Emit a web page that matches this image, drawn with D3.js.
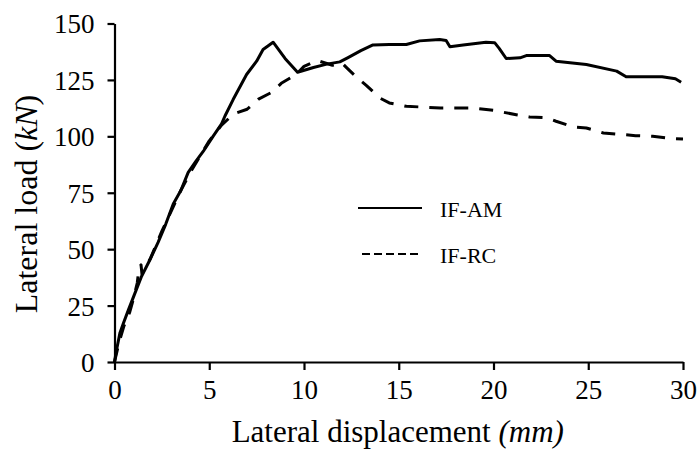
<!DOCTYPE html>
<html lang="en">
<head>
    <meta charset="UTF-8">
    <title>Lateral load vs displacement</title>
    <script src="https://d3js.org/d3.v7.min.js"></script>
    <style>
        body {
            margin: 0;
            background: #ffffff;
            overflow: hidden;
        }
        svg text {
            font-family: 'Liberation Serif', 'Times New Roman', serif;
            fill: #000;
        }
    </style>
</head>
<body>
    <div id="chart"></div>

    <script>
        // Data (displacement in mm, load in kN)
        const amDisp = [0, 0.1, 0.29, 0.46, 0.73, 1.08, 1.43, 1.87, 2.3, 2.7, 3.1, 3.5, 3.89, 4.3, 4.68, 5.2, 5.65, 5.83, 6.26, 6.97, 7.5, 7.84, 8.37, 9.0, 9.66, 10.5, 11.2, 11.89, 12.3, 13.0, 13.64, 14.5, 15.4, 16.1, 17.16, 17.5, 17.7, 18.4, 19.6, 20.06, 20.3, 20.67, 21.4, 21.73, 22.96, 23.3, 24.9, 26.5, 27.0, 28.9, 29.6, 29.9];
        const amLoad = [0, 5, 13, 17, 23, 30.5, 38, 45.3, 53, 61, 70, 76, 84, 89, 93.3, 100, 105.5, 109, 116.3, 127.4, 133.3, 138.5, 141.7, 134.5, 128.4, 130.5, 132, 133, 134.8, 138, 140.5, 140.7, 140.7, 142.3, 142.9, 142.5, 139.7, 140.5, 141.7, 141.5, 139, 134.5, 134.8, 135.8, 135.8, 133.3, 131.8, 128.9, 126.4, 126.4, 125.5, 124];

        const rcDisp = [0, 0.25, 0.5, 0.8, 1.0, 1.2, 1.3, 1.4, 1.45, 1.9, 2.5, 3.0, 3.5, 4.0, 4.5, 5.0, 5.65, 6.3, 7.0, 7.6, 8.3, 8.8, 9.6, 10.0, 10.7, 11.5, 12.0, 12.3, 12.8, 13.3, 14.0, 14.5, 15.4, 17.2, 18.9, 20.0, 21.2, 21.9, 22.8, 23.3, 24.2, 24.9, 25.8, 27.5, 28.4, 29.3, 30];
        const rcLoad = [0, 9, 16, 22, 28, 35, 42, 43, 39, 46, 58, 67, 76, 84, 91, 98, 105, 110, 112, 116.5, 119.5, 123.5, 127.5, 131, 133.6, 131.5, 132.5, 130, 126, 122.5, 117, 114.8, 113.3, 112.6, 112.6, 111.5, 109.6, 108.6, 108.2, 106.7, 104.2, 103.7, 101.5, 100.3, 100, 99.1, 98.8];

        const xTicks = [0, 5, 10, 15, 20, 25, 30];
        const yTicks = [0, 25, 50, 75, 100, 125, 150];
        const seriesNames = ["IF-AM", "IF-RC"];

        const width = 699, height = 458;
        const margin = { left: 114.5, right: 16, top: 23.5, bottom: 96 };

        const svg = d3.select("#chart").append("svg")
            .attr("width", width)
            .attr("height", height);

        const x = d3.scaleLinear().domain([0, 30]).range([margin.left, width - margin.right]);
        const y = d3.scaleLinear().domain([0, 150]).range([height - margin.bottom, margin.top]);

        // axes
        const xAxis = svg.append("g")
            .attr("transform", `translate(0,${y(0)})`)
            .call(d3.axisBottom(x).tickValues(xTicks).tickSize(8).tickPadding(10).tickSizeOuter(0));
        const yAxis = svg.append("g")
            .attr("transform", `translate(${x(0)},0)`)
            .call(d3.axisLeft(y).tickValues(yTicks).tickSize(7).tickPadding(13).tickSizeOuter(0));

        [xAxis, yAxis].forEach(a => {
            a.select(".domain").attr("stroke", "#000").attr("stroke-width", 2.2);
            a.selectAll(".tick line").attr("stroke", "#000").attr("stroke-width", 2.2);
            a.selectAll(".tick text").style("font-size", "27px").attr("fill", "#000");
        });
        yAxis.selectAll(".tick text").attr("dy", "0.35em");

        // curves
        const line = d3.line().x(d => x(d[0])).y(d => y(d[1]));
        const amData = d3.zip(amDisp, amLoad);
        const rcData = d3.zip(rcDisp, rcLoad);

        svg.append("path")
            .datum(rcData)
            .attr("d", line)
            .attr("fill", "none")
            .attr("stroke", "#000")
            .attr("stroke-width", 3)
            .attr("stroke-dasharray", "14,11")
            .attr("stroke-linejoin", "round");

        svg.append("path")
            .datum(amData)
            .attr("d", line)
            .attr("fill", "none")
            .attr("stroke", "#000")
            .attr("stroke-width", 3)
            .attr("stroke-linejoin", "round");

        // legend
        const legend = svg.append("g");
        const legendRows = [
            { name: seriesNames[0], y: 208, dash: null, x1: 358 },
            { name: seriesNames[1], y: 254, dash: "8,4", x1: 362 }
        ];
        legendRows.forEach(r => {
            legend.append("line")
                .attr("x1", r.x1).attr("x2", 422)
                .attr("y1", r.y).attr("y2", r.y)
                .attr("stroke", "#000")
                .attr("stroke-width", 2)
                .attr("stroke-dasharray", r.dash);
            legend.append("text")
                .attr("x", 440)
                .attr("y", r.y + 4)
                .attr("dominant-baseline", "middle")
                .style("font-size", "22px")
                .text(r.name);
        });

        // axis titles
        const xTitle = svg.append("text")
            .attr("x", (x(0) + x(30)) / 2 - 1)
            .attr("y", 442)
            .attr("text-anchor", "middle")
            .style("font-size", "31px");
        xTitle.append("tspan").text("Lateral displacement ");
        xTitle.append("tspan").style("font-style", "italic").text("(mm)");

        const yTitle = svg.append("text")
            .attr("transform", `translate(37,${204}) rotate(-90)`)
            .attr("text-anchor", "middle")
            .style("font-size", "32px");
        yTitle.append("tspan").text("Lateral load (");
        yTitle.append("tspan").style("font-style", "italic").text("kN");
        yTitle.append("tspan").text(")");
    </script>
</body>
</html>
